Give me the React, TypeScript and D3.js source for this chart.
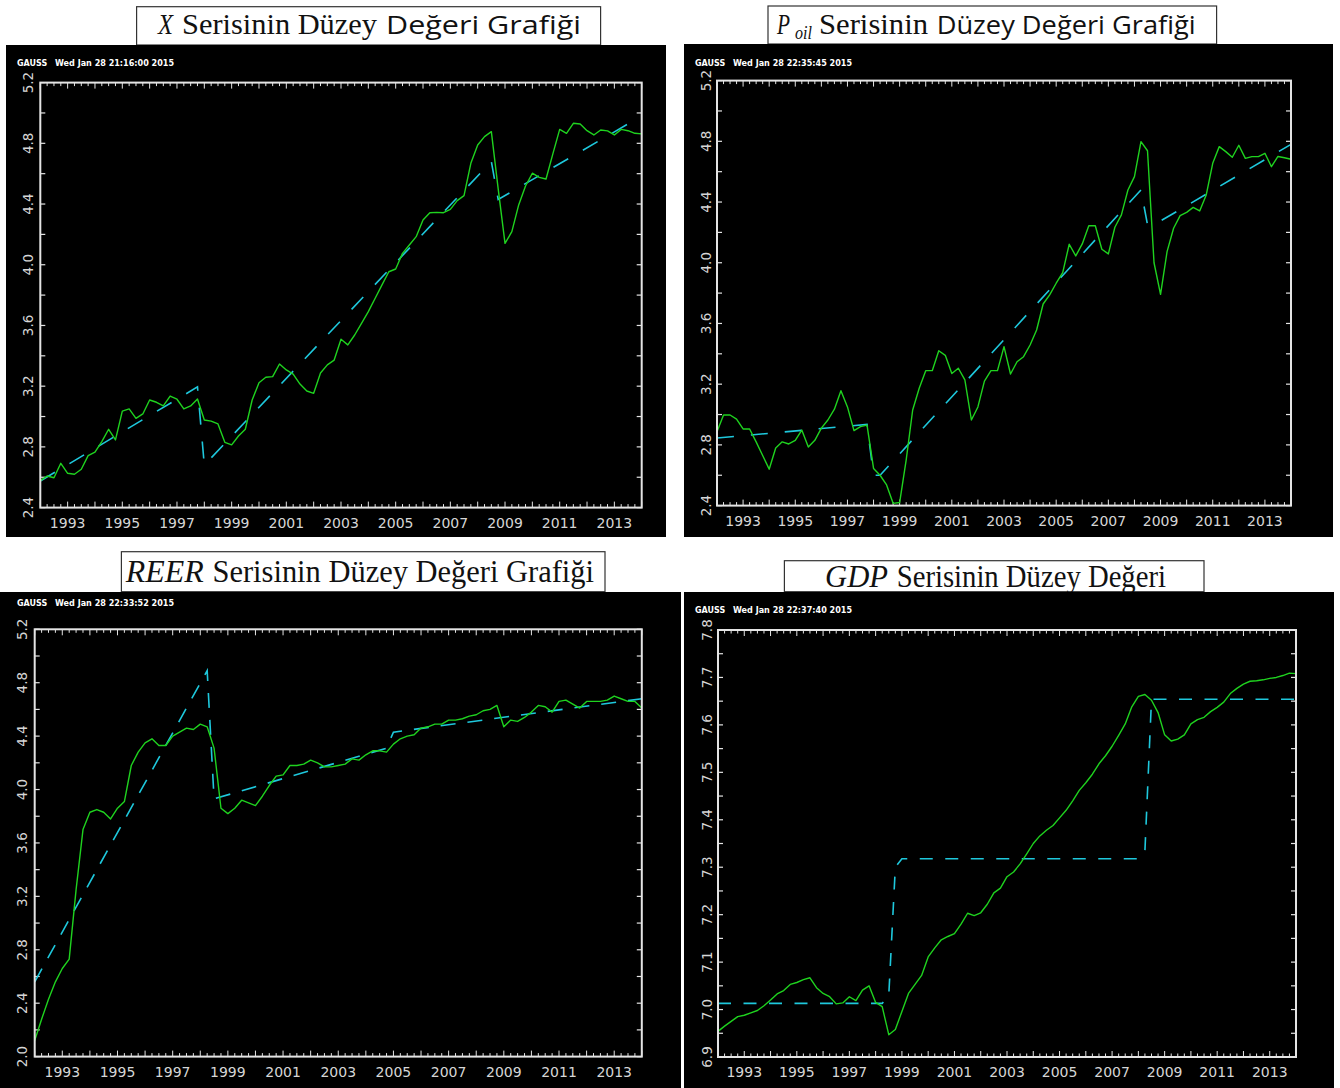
import React from 'react';
import * as d3 from 'd3';

// ---------- DATA ----------
// quarterly observations 1992Q1 ... 2014Q1 (89 points)
const quarterTimes: number[] = d3.range(89).map((i) => 1992 + i / 4);
const yearLabels = [1993, 1995, 1997, 1999, 2001, 2003, 2005, 2007, 2009, 2011, 2013];

const xLevel = [
  2.578, 2.608, 2.597, 2.692, 2.626, 2.62, 2.653, 2.742, 2.765, 2.835, 2.916, 2.846, 3.036, 3.05, 2.988, 3.017,
  3.109, 3.094, 3.07, 3.135, 3.114, 3.05, 3.07, 3.116, 2.977, 2.97, 2.951, 2.83, 2.813, 2.872, 2.916, 3.109,
  3.223, 3.259, 3.263, 3.346, 3.307, 3.28, 3.214, 3.168, 3.153, 3.287, 3.34, 3.372, 3.509, 3.472, 3.537, 3.614,
  3.691, 3.779, 3.867, 3.954, 3.972, 4.075, 4.13, 4.185, 4.295, 4.343, 4.345, 4.343, 4.365, 4.422, 4.455, 4.668,
  4.789, 4.844, 4.877, 4.5, 4.141, 4.218, 4.394, 4.519, 4.603, 4.576, 4.565, 4.73, 4.892, 4.866, 4.932, 4.927,
  4.883, 4.855, 4.888, 4.882, 4.855, 4.892, 4.883, 4.866, 4.862,
];
const xTrend: [number, number][] = [
  [1992.0, 2.575], [1997.75, 3.195], [1998.0, 2.68], [2008.5, 4.68], [2008.75, 4.43], [2014.0, 4.98],
];

const poilLevel = [
  2.887, 2.997, 2.997, 2.97, 2.905, 2.905, 2.82, 2.73, 2.64, 2.78, 2.82, 2.806, 2.83, 2.898, 2.786, 2.83,
  2.91, 2.964, 3.035, 3.157, 3.05, 2.894, 2.92, 2.93, 2.645, 2.6, 2.536, 2.415, 2.42, 2.7, 3.03, 3.173,
  3.289, 3.289, 3.42, 3.39, 3.27, 3.305, 3.228, 2.964, 3.05, 3.22, 3.289, 3.289, 3.447, 3.267, 3.348, 3.381,
  3.458, 3.557, 3.728, 3.788, 3.865, 3.935, 4.122, 4.045, 4.124, 4.244, 4.244, 4.089, 4.058, 4.234, 4.315, 4.479,
  4.567, 4.798, 4.738, 4.0, 3.792, 4.073, 4.227, 4.31, 4.332, 4.365, 4.341, 4.446, 4.655, 4.765, 4.732, 4.695,
  4.774, 4.688, 4.699, 4.699, 4.721, 4.633, 4.7, 4.692, 4.682,
];
const poilTrend: [number, number][] = [
  [1992.0, 2.845], [1997.75, 2.935], [1998.0, 2.6], [1998.25, 2.6], [2008.25, 4.48], [2008.5, 4.25],
  [2008.75, 4.25], [2014.0, 4.78],
];

const reerLevel = [
  2.12, 2.28, 2.43, 2.56, 2.66, 2.73, 3.25, 3.7, 3.83, 3.85, 3.83, 3.78, 3.86, 3.91, 4.18, 4.28,
  4.35, 4.38, 4.33, 4.33, 4.4, 4.43, 4.46, 4.45, 4.49, 4.47, 4.31, 3.86, 3.82, 3.86, 3.92, 3.9,
  3.88, 3.95, 4.03, 4.1, 4.11, 4.18, 4.18, 4.19, 4.22, 4.2, 4.17, 4.17, 4.18, 4.19, 4.23, 4.22,
  4.26, 4.29, 4.29, 4.28, 4.34, 4.38, 4.4, 4.41, 4.46, 4.47, 4.49, 4.49, 4.52, 4.52, 4.53, 4.55,
  4.56, 4.59, 4.6, 4.63, 4.47, 4.52, 4.51, 4.54, 4.58, 4.63, 4.62, 4.58, 4.66, 4.67, 4.64, 4.61,
  4.66, 4.66, 4.66, 4.67, 4.7, 4.68, 4.66, 4.66, 4.61,
];
const reerTrend: [number, number][] = [
  [1992.0, 2.56], [1998.25, 4.89], [1998.5, 3.93], [2004.75, 4.31], [2005.0, 4.43], [2014.0, 4.68],
];

const gdpLevel = [
  6.954, 6.965, 6.975, 6.985, 6.988, 6.993, 6.998, 7.008, 7.02, 7.033, 7.04, 7.053, 7.057, 7.063, 7.067, 7.046,
  7.034, 7.027, 7.012, 7.014, 7.027, 7.019, 7.041, 7.05, 7.015, 7.006, 6.947, 6.958, 6.996, 7.034, 7.053, 7.072,
  7.111, 7.13, 7.147, 7.154, 7.16, 7.18, 7.203, 7.198, 7.204, 7.222, 7.246, 7.256, 7.28, 7.29, 7.307, 7.328,
  7.35, 7.366, 7.378, 7.388, 7.404, 7.42, 7.44, 7.462, 7.478, 7.496, 7.518, 7.535, 7.555, 7.578, 7.602, 7.638,
  7.66, 7.664, 7.652, 7.626, 7.579, 7.566, 7.57, 7.579, 7.602, 7.611, 7.616, 7.628, 7.637, 7.648, 7.666, 7.677,
  7.686, 7.692, 7.693, 7.695, 7.698, 7.7, 7.704, 7.709, 7.708,
];
const gdpTrend: [number, number][] = [
  [1992.0, 7.013], [1998.25, 7.013], [1998.5, 7.03], [1998.75, 7.3], [1999.0, 7.318], [2008.0, 7.318],
  [2008.25, 7.335], [2008.5, 7.654], [2014.0, 7.654],
];

const yLabelsStd = [2.4, 2.8, 3.2, 3.6, 4.0, 4.4, 4.8, 5.2];
const yLabelsReer = [2.0, 2.4, 2.8, 3.2, 3.6, 4.0, 4.4, 4.8, 5.2];
const yLabelsGdp = [6.9, 7.0, 7.1, 7.2, 7.3, 7.4, 7.5, 7.6, 7.7, 7.8];

const headerTimes = [
  'Wed Jan 28 21:16:00 2015',
  'Wed Jan 28 22:35:45 2015',
  'Wed Jan 28 22:33:52 2015',
  'Wed Jan 28 22:37:40 2015',
];

// ---------- STYLE / LAYOUT ----------
const GREEN = '#1fd21f';
const CYAN = '#1ec8dc';
const AXIS = '#e4e4e4';
const LABEL = '#d6d6d6';
const SERIF = '"Liberation Serif", "Times New Roman", serif';
const SANS = '"Open Sans", "Noto Sans", sans-serif';

type Seg = { text: string; x: number; w: number; font: string; size: number; italic?: boolean; dy?: number };
type Panel = {
  bg: { x: number; y: number; w: number; h: number };
  frame: { l: number; r: number; t: number; b: number };
  yDomain: [number, number];
  yLabels: number[];
  yMinor: number;
  header: { x: number; y: number; text: string };
  yLabelX: number;
  level: number[];
  trend: [number, number][];
  dash: string;
  titleBox: { x1: number; y1: number; x2: number; y2: number };
  titleBase: number;
  title: Seg[];
};

const panels: Panel[] = [
  {
    bg: { x: 6, y: 45, w: 660, h: 492 },
    frame: { l: 40.3, r: 641.7, t: 82.6, b: 507.6 },
    yDomain: [2.4, 5.2], yLabels: yLabelsStd, yMinor: 0.2,
    header: { x: 17, y: 66, text: headerTimes[0] }, yLabelX: 28,
    level: xLevel, trend: xTrend, dash: '17 17',
    titleBox: { x1: 136.6, y1: 6.7, x2: 600.6, y2: 45 }, titleBase: 34,
    title: [
      { text: 'X', x: 158, w: 15, font: SERIF, size: 30, italic: true },
      { text: 'Serisinin Düzey', x: 182, w: 195, font: SERIF, size: 30 },
      { text: 'Değeri Grafiği', x: 386, w: 195, font: SANS, size: 25 },
    ],
  },
  {
    bg: { x: 684, y: 44, w: 649, h: 493 },
    frame: { l: 717, r: 1291, t: 80.6, b: 505.6 },
    yDomain: [2.4, 5.2], yLabels: yLabelsStd, yMinor: 0.2,
    header: { x: 695, y: 66, text: headerTimes[1] }, yLabelX: 706,
    level: poilLevel, trend: poilTrend, dash: '17 17',
    titleBox: { x1: 768, y1: 6, x2: 1216.6, y2: 44 }, titleBase: 34,
    title: [
      { text: 'P', x: 777, w: 13, font: SERIF, size: 30, italic: true },
      { text: 'oil', x: 795, w: 17, font: SERIF, size: 18, italic: true, dy: 5 },
      { text: 'Serisinin', x: 819, w: 109, font: SERIF, size: 30 },
      { text: 'Düzey Değeri Grafiği', x: 936.7, w: 259, font: SANS, size: 25 },
    ],
  },
  {
    bg: { x: 0, y: 592, w: 681, h: 496 },
    frame: { l: 34.7, r: 641.8, t: 629.3, b: 1056.6 },
    yDomain: [2.0, 5.2], yLabels: yLabelsReer, yMinor: 0.2,
    header: { x: 17, y: 606, text: headerTimes[2] }, yLabelX: 22.5,
    level: reerLevel, trend: reerTrend, dash: '15 12',
    titleBox: { x1: 121.4, y1: 551.7, x2: 605, y2: 591.7 }, titleBase: 582,
    title: [
      { text: 'REER', x: 125.8, w: 78, font: SERIF, size: 31, italic: true },
      { text: 'Serisinin Düzey Değeri Grafiği', x: 212.5, w: 381.5, font: SERIF, size: 31 },
    ],
  },
  {
    bg: { x: 684, y: 592, w: 650, h: 496 },
    frame: { l: 718, r: 1296, t: 630, b: 1057 },
    yDomain: [6.9, 7.8], yLabels: yLabelsGdp, yMinor: 0.05,
    header: { x: 695, y: 613, text: headerTimes[3] }, yLabelX: 707,
    level: gdpLevel, trend: gdpTrend, dash: '13 12.5',
    titleBox: { x1: 784.4, y1: 560.7, x2: 1204, y2: 591.7 }, titleBase: 587,
    title: [
      { text: 'GDP', x: 825, w: 63, font: SERIF, size: 31, italic: true },
      { text: 'Serisinin Düzey Değeri', x: 896.7, w: 269.3, font: SERIF, size: 31 },
    ],
  },
];

function Title({ p }: { p: Panel }) {
  return (
    <g>
      <rect
        x={p.titleBox.x1}
        y={p.titleBox.y1}
        width={p.titleBox.x2 - p.titleBox.x1}
        height={p.titleBox.y2 - p.titleBox.y1}
        fill="#fff"
        stroke="#333"
        strokeWidth={1.2}
      />
      {p.title.map((s, i) => (
        <text
          key={i}
          x={s.x}
          y={p.titleBase + (s.dy || 0)}
          fontFamily={s.font}
          fontSize={s.size}
          fontStyle={s.italic ? 'italic' : 'normal'}
          textLength={s.w}
          lengthAdjust="spacingAndGlyphs"
          fill="#111"
        >
          {s.text}
        </text>
      ))}
    </g>
  );
}

function ChartPanel({ p }: { p: Panel }) {
  const { frame } = p;
  const x = d3.scaleLinear().domain([1992, 2014]).range([frame.l, frame.r]);
  const y = d3.scaleLinear().domain(p.yDomain).range([frame.b, frame.t]);
  const levelLine = d3
    .line<number>()
    .x((_, i) => x(quarterTimes[i]))
    .y((d) => y(d));
  const trendLine = d3
    .line<[number, number]>()
    .x((d) => x(d[0]))
    .y((d) => y(d[1]));

  const nMinor = Math.round((p.yDomain[1] - p.yDomain[0]) / p.yMinor);
  const yMinorTicks = d3.range(nMinor + 1).map((k) => p.yDomain[0] + k * p.yMinor);

  return (
    <g>
      <rect x={p.bg.x} y={p.bg.y} width={p.bg.w} height={p.bg.h} fill="#000" />
      {/* header */}
      <text x={p.header.x} y={p.header.y} fontFamily='"DejaVu Sans", sans-serif' fontSize={8} fontWeight="bold" fill="#fff">
        GAUSS
      </text>
      <text
        x={p.header.x + 38}
        y={p.header.y}
        fontFamily='"DejaVu Sans", sans-serif'
        fontSize={8}
        fontWeight="bold"
        fill="#fff"
        textLength={119}
        lengthAdjust="spacingAndGlyphs"
      >
        {p.header.text}
      </text>
      {/* y ticks (both sides, inward) */}
      {yMinorTicks.map((v, i) => (
        <g key={'yt' + i}>
          <line x1={frame.l} x2={frame.l + 5} y1={y(v)} y2={y(v)} stroke={AXIS} strokeWidth={1.2} />
          <line x1={frame.r - 5} x2={frame.r} y1={y(v)} y2={y(v)} stroke={AXIS} strokeWidth={1.2} />
        </g>
      ))}
      {/* x ticks quarterly / yearly, top and bottom */}
      {quarterTimes.map((t, i) => {
        const major = i % 4 === 0;
        const len = major ? 6 : 3.5;
        return (
          <g key={'xt' + i}>
            <line x1={x(t)} x2={x(t)} y1={frame.b} y2={frame.b - len} stroke={AXIS} strokeWidth={1} />
            <line x1={x(t)} x2={x(t)} y1={frame.t} y2={frame.t + len} stroke={AXIS} strokeWidth={1} />
          </g>
        );
      })}
      {/* y labels */}
      {p.yLabels.map((v, i) => (
        <text
          key={'yl' + i}
          transform={`translate(${p.yLabelX},${y(v)}) rotate(-90)`}
          textAnchor="middle"
          dy="0.36em"
          fontFamily='"DejaVu Sans", sans-serif'
          fontSize={13.5}
          fill={LABEL}
        >
          {v.toFixed(1)}
        </text>
      ))}
      {/* x labels */}
      {yearLabels.map((yr) => (
        <text
          key={'xl' + yr}
          x={x(yr)}
          y={frame.b + 20}
          textAnchor="middle"
          fontFamily='"DejaVu Sans", sans-serif'
          fontSize={14}
          fill={LABEL}
        >
          {yr}
        </text>
      ))}
      {/* series */}
      <path d={trendLine(p.trend) || ''} fill="none" stroke={CYAN} strokeWidth={1.6} strokeDasharray={p.dash} />
      <path d={levelLine(p.level) || ''} fill="none" stroke={GREEN} strokeWidth={1.4} strokeLinejoin="round" />
      {/* frame */}
      <rect
        x={frame.l}
        y={frame.t}
        width={frame.r - frame.l}
        height={frame.b - frame.t}
        fill="none"
        stroke={AXIS}
        strokeWidth={2}
      />
    </g>
  );
}

export default function App() {
  return (
    <svg
      width={1340}
      height={1088}
      viewBox="0 0 1340 1088"
      style={{ position: 'absolute', left: 0, top: 0, background: '#fff' }}
    >
      {panels.map((p, i) => (
        <Title key={'t' + i} p={p} />
      ))}
      {panels.map((p, i) => (
        <ChartPanel key={i} p={p} />
      ))}
    </svg>
  );
}
